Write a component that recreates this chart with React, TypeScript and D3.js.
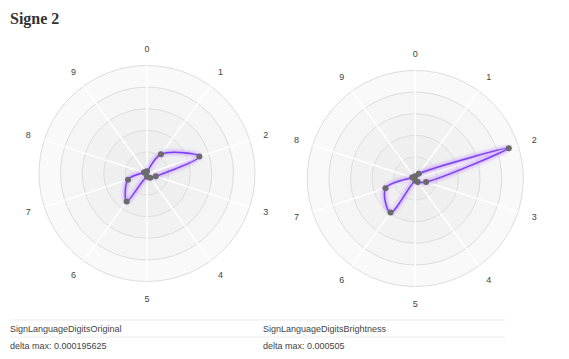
import React from "react";
import * as d3 from "d3";

const AXES = ["0", "1", "2", "3", "4", "5", "6", "7", "8", "9"];
const TITLE = "Signe 2";
const DATASETS = ["SignLanguageDigitsOriginal", "SignLanguageDigitsBrightness"];
const DELTAS = ["delta max: 0.000195625", "delta max: 0.000505"];
const ORIGINAL = [0.02, 0.22, 0.51, 0.085, 0.05, 0.03, 0.32, 0.185, 0.03, 0.02];
const BRIGHTNESS = [0.02, 0.055, 0.91, 0.105, 0.04, 0.02, 0.39, 0.29, 0.03, 0.02];
const LEVELS = [1, 0.8, 0.6, 0.4, 0.2];
const BAND_COLORS = ["#f9f9f9", "#f5f5f5", "#f2f2f2", "#efefef", "#ececec"];

const W = 569;
const H = 359;
const R = 108;

function Radar({ cx, cy, values }: { cx: number; cy: number; values: number[] }) {
  const r = d3.scaleLinear().domain([0, 1]).range([0, R]);
  const angle = d3
    .scalePoint<string>()
    .domain(AXES)
    .range([0, 2 * Math.PI * (1 - 1 / AXES.length)]);
  const pt = (i: number, v: number): [number, number] => {
    const a = angle(AXES[i]) as number;
    return [Math.sin(a) * r(v), -Math.cos(a) * r(v)];
  };
  const line = d3
    .line<number>()
    .x((v, i) => pt(i, v)[0])
    .y((v, i) => pt(i, v)[1])
    .curve(d3.curveCatmullRomClosed.alpha(0.5));
  const d = line(values) || "";
  return (
    <g transform={`translate(${cx},${cy})`}>
      {LEVELS.map((l, i) => (
        <circle key={"b" + i} r={r(l)} fill={BAND_COLORS[i]} stroke="#dddddd" strokeWidth={1} />
      ))}
      {AXES.map((a, i) => {
        const [x, y] = pt(i, 1);
        return <line key={"s" + i} x1={0} y1={0} x2={x} y2={y} stroke="#ffffff" strokeWidth={1.5} />;
      })}
      {AXES.map((a, i) => {
        const [x, y] = pt(i, 125 / R);
        return (
          <text
            key={"l" + i}
            x={x}
            y={y}
            textAnchor="middle"
            dominantBaseline="central"
            fontFamily="Liberation Sans, Arial, sans-serif"
            fontSize={9}
            fill="#444"
          >
            {a}
          </text>
        );
      })}
      <path d={d} fill="none" stroke="#b784ff" strokeWidth={5} strokeOpacity={0.5} filter="url(#glow)" />
      <path d={d} fill="none" stroke="#7b3ff2" strokeWidth={1.5} />
      {values.map((v, i) => {
        const [x, y] = pt(i, v);
        return <circle key={"p" + i} cx={x} cy={y} r={3} fill="#6b6b6b" />;
      })}
    </g>
  );
}

export default function App() {
  return (
    <svg
      width={W}
      height={H}
      style={{ position: "absolute", left: 0, top: 0, display: "block", background: "#fff" }}
    >
      <defs>
        <filter id="glow" x="-20%" y="-20%" width="140%" height="140%">
          <feGaussianBlur stdDeviation={1.5} />
        </filter>
      </defs>
      <text x={10} y={24} fontFamily="Liberation Serif, serif" fontWeight="bold" fontSize={16} fill="#333">
        {TITLE}
      </text>
      <Radar cx={147} cy={173.5} values={ORIGINAL} />
      <Radar cx={415.3} cy={178.5} values={BRIGHTNESS} />
      <line x1={10} x2={505} y1={320} y2={320} stroke="#ececec" />
      <line x1={10} x2={505} y1={337} y2={337} stroke="#ececec" />
      {DATASETS.map((t, i) => (
        <text key={"d" + i} x={i === 0 ? 10 : 263} y={329} dominantBaseline="central"
          fontFamily="Liberation Sans, Arial, sans-serif" fontSize={9} fill="#444">
          {t}
        </text>
      ))}
      {DELTAS.map((t, i) => (
        <text key={"m" + i} x={i === 0 ? 10 : 263} y={345.5} dominantBaseline="central"
          fontFamily="Liberation Sans, Arial, sans-serif" fontSize={9} fill="#444">
          {t}
        </text>
      ))}
    </svg>
  );
}
